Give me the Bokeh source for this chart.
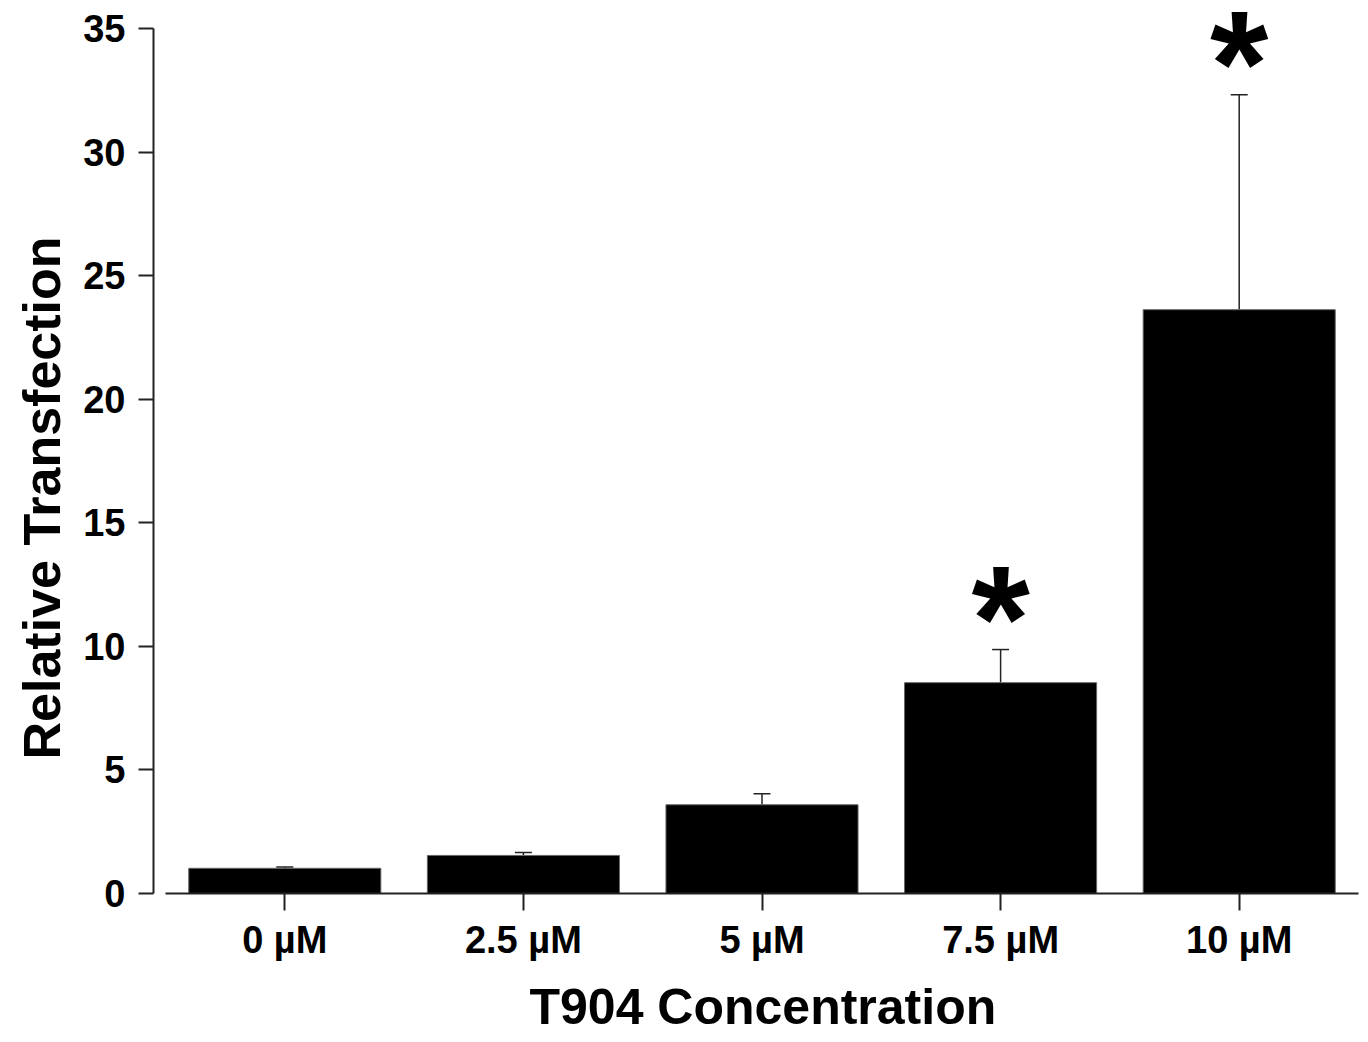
from bokeh.plotting import figure
from bokeh.models import Range1d, FixedTicker, ColumnDataSource, Whisker, TeeHead, Title
from bokeh.core.properties import value
from bokeh.embed import file_html
from bokeh.resources import INLINE

categories = ["0 µM", "2.5 µM", "5 µM", "7.5 µM", "10 µM"]
means = [1.02, 1.54, 3.59, 8.53, 23.62]
errors = [0.05, 0.12, 0.45, 1.34, 8.70]
significance = ["", "", "", "*", "*"]
y_ticks = [0, 5, 10, 15, 20, 25, 30, 35]
x_title = "T904 Concentration"
y_title = "Relative Transfection"

FONT = "Liberation Sans"
pos = [i + 0.5 for i in range(len(categories))]
upper = [m + e for m, e in zip(means, errors)]

src = ColumnDataSource(dict(x=pos, top=means, upper=upper, lab=categories))

p = figure(frame_width=1205, frame_height=893,
           x_range=Range1d(-0.0503, 5.0), y_range=Range1d(0, 36.13),
           output_backend="svg", toolbar_location=None,
           min_border_left=153, min_border_right=2,
           min_border_top=0, min_border_bottom=148)
p.outline_line_color = None
p.grid.visible = False
p.background_fill_color = "white"

p.vbar(x="x", top="top", bottom=0, width=0.805, source=src,
       fill_color="black", line_color="#666666", line_width=1)

w = Whisker(base="x", lower="top", upper="upper", source=src,
            line_color="#222222", line_width=1.5,
            upper_head=TeeHead(size=17, line_color="#222222", line_width=1.5),
            lower_head=None)
p.add_layout(w)

sig_x = [x for x, s in zip(pos, significance) if s]
sig_y = [u for u, s in zip(upper, significance) if s]
sig_t = [s for s in significance if s]
p.text(x=sig_x, y=sig_y, text=sig_t, text_align="center", text_baseline="alphabetic",
       y_offset=-31, text_font=value(FONT), text_font_style="bold",
       text_font_size="150px", text_color="black")

# axes
p.xaxis.ticker = FixedTicker(ticks=pos)
p.xaxis.major_label_overrides = {x: c for x, c in zip(pos, categories)}
p.xaxis.bounds = (0, 5)
p.yaxis.ticker = FixedTicker(ticks=y_ticks)
p.yaxis.bounds = (0, 35)

for ax in (p.xaxis, p.yaxis):
    ax.axis_line_width = 2
    ax.axis_line_color = "#222222"
    ax.major_tick_line_width = 2
    ax.major_tick_line_color = "#222222"
    ax.major_tick_in = 0
    ax.minor_tick_line_color = None
    ax.major_label_text_font = FONT
    ax.major_label_text_font_style = "bold"
    ax.major_label_text_font_size = "38px"
    ax.major_label_text_color = "black"

p.xaxis.major_tick_out = 17
p.yaxis.major_tick_out = 15
p.xaxis.major_label_standoff = 8
p.yaxis.major_label_standoff = 13

# axis titles (as side titles, so that they can be shifted along the axis)
p.add_layout(Title(text=x_title, align="left", offset=376, standoff=26,
                   text_font=FONT, text_font_style="bold",
                   text_font_size="50px", text_color="black"), "below")
p.add_layout(Title(text=y_title, align="left", offset=134, standoff=20,
                   text_font=FONT, text_font_style="bold",
                   text_font_size="52px", text_color="black"), "left")

open("out.html", "w").write(file_html(p, INLINE))
